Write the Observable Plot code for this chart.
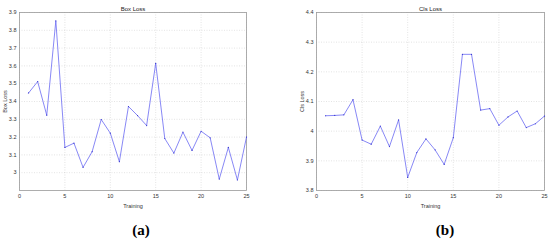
<!DOCTYPE html>
<html><head><meta charset="utf-8">
<script src="https://cdn.jsdelivr.net/npm/d3@7"></script>
<script src="https://cdn.jsdelivr.net/npm/@observablehq/plot@0.6"></script>
<style>
body{margin:0;background:#fff;}
#wrap{position:relative;width:550px;height:242px;overflow:hidden;font-family:"Liberation Sans",Arial,sans-serif;}
.p{position:absolute;top:0;}
.cap{position:absolute;top:222px;font-family:"Liberation Serif","DejaVu Serif",serif;font-weight:bold;font-size:15px;transform:translateX(-50%);}
</style></head><body>
<div id="wrap"></div>
<script>
const epochs = [1,2,3,4,5,6,7,8,9,10,11,12,13,14,15,16,17,18,19,20,21,22,23,24,25];
const boxLoss = [3.448,3.512,3.323,3.853,3.142,3.166,3.030,3.118,3.299,3.222,3.062,3.372,3.321,3.265,3.614,3.192,3.110,3.228,3.125,3.233,3.196,2.964,3.142,2.959,3.200];
const clsLoss = [4.052,4.053,4.055,4.106,3.970,3.956,4.017,3.948,4.038,3.844,3.928,3.974,3.937,3.888,3.978,4.259,4.259,4.071,4.076,4.020,4.048,4.068,4.012,4.025,4.051];
const xTicks = [0,5,10,15,20,25];
const boxTicks = [3,3.1,3.2,3.3,3.4,3.5,3.6,3.7,3.8,3.9];
const clsTicks = [3.8,3.9,4,4.1,4.2,4.3,4.4];
const titles = ["Box Loss","Cls Loss"];
const captions = ["(a)","(b)"];

const lineColor = "#6a6af2";
const fmt = d => String(+d.toFixed(1));

function chart(values, yDomain, yTicks, title, ml, mr) {
  const data = epochs.map((e,i)=>({x:e, y:values[i]}));
  return Plot.plot({
    width: 275, height: 215,
    marginLeft: ml, marginRight: mr, marginTop: 12, marginBottom: 25,
    style: {fontFamily: "'Liberation Sans', Arial, sans-serif", fontSize: "5.5px", color: "#333"},
    x: {domain: [0,25]},
    y: {domain: yDomain},
    marks: [
      Plot.gridX(xTicks, {stroke: "#bbb", strokeOpacity: 0.8, strokeDasharray: "1,1.5", strokeWidth: 0.5}),
      Plot.gridY(yTicks, {stroke: "#bbb", strokeOpacity: 0.8, strokeDasharray: "1,1.5", strokeWidth: 0.5}),
      Plot.frame({stroke: "#999", strokeWidth: 0.8}),
      Plot.axisX({ticks: xTicks, tickSize: 0, tickPadding: 4, label: "Training", labelAnchor: "center", labelArrow: "none", labelOffset: 17, fontSize: 5.5}),
      Plot.axisY({ticks: yTicks, tickSize: 0, tickPadding: 3, tickFormat: fmt, label: title, labelAnchor: "center", labelArrow: "none", labelOffset: 16, fontSize: 5.5}),
      Plot.line(data, {x: "x", y: "y", stroke: lineColor, strokeWidth: 0.8}),
      Plot.dot(data, {x: "x", y: "y", r: 0.6, fill: "#3333cc", stroke: "none"}),
      Plot.text([title], {frameAnchor: "top", dy: -6, fontSize: 6, fill: "#222"})
    ]
  });
}

const wrap = document.getElementById("wrap");
const a = chart(boxLoss, [2.9,3.9], boxTicks, titles[0], 19, 29);
a.classList.add("p"); a.style.left = "0px";
const b = chart(clsLoss, [3.8,4.4], clsTicks, titles[1], 41, 6);
b.classList.add("p"); b.style.left = "275px";
wrap.append(a, b);
[[captions[0],141],[captions[1],445]].forEach(([t,x])=>{
  const d = document.createElement("div");
  d.className = "cap"; d.textContent = t; d.style.left = x + "px";
  wrap.append(d);
});
</script>
</body></html>
